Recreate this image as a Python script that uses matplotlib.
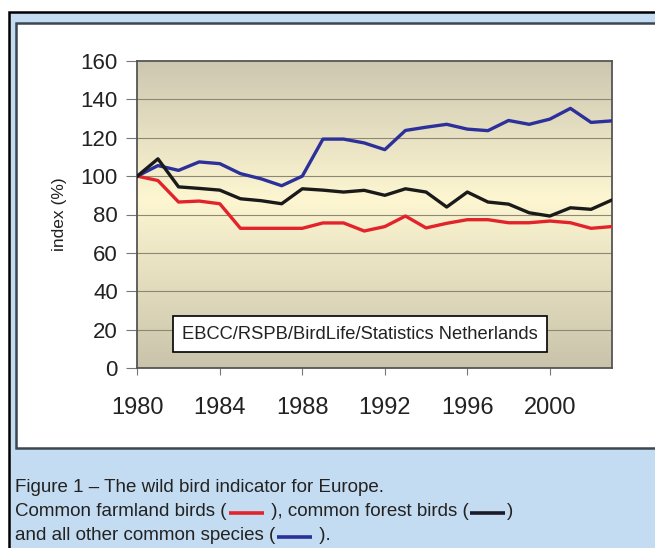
import numpy as np
import matplotlib
matplotlib.use("Agg")
import matplotlib.pyplot as plt
from matplotlib.patches import Rectangle
from matplotlib.lines import Line2D
from matplotlib.colors import LinearSegmentedColormap

plt.rcParams['font.family'] = ['Liberation Sans', 'DejaVu Sans']

# --- Data (index, 1980 = 100) ---
years = list(range(1980, 2004))
farmland = [100, 97.7, 86.5, 87.0, 85.6, 72.8, 72.8, 72.8, 72.8, 75.6, 75.6, 71.4,
            73.7, 79.2, 73.0, 75.4, 77.3, 77.3, 75.7, 75.7, 76.6, 75.7, 72.8, 73.7]
forest = [100, 109.0, 94.4, 93.6, 92.7, 88.2, 87.2, 85.6, 93.4, 92.7, 91.7, 92.6,
          90.0, 93.4, 91.7, 83.9, 91.7, 86.5, 85.4, 80.9, 79.2, 83.5, 82.7, 87.5]
other = [100, 105.5, 103.0, 107.4, 106.5, 101.3, 98.6, 95.0, 100.0, 119.3, 119.3, 117.3,
         113.8, 123.8, 125.5, 127.0, 124.5, 123.7, 129.0, 127.0, 129.7, 135.3, 128.0, 128.8]
xticks = [1980, 1984, 1988, 1992, 1996, 2000]
yticks = [0, 20, 40, 60, 80, 100, 120, 140, 160]
source = "EBCC/RSPB/BirdLife/Statistics Netherlands"

W, H = 655, 548
fig = plt.figure(figsize=(W / 100, H / 100), dpi=100)
fig.patch.set_facecolor("white")


def fx(px):
    return px / W


def fy(py):
    return 1 - py / H


# --- Frames ---
fig.add_artist(Rectangle((fx(8.5), fy(600)), fx(700), fy(11.5) - fy(600),
                         transform=fig.transFigure, facecolor="#c4dcf1",
                         edgecolor="black", linewidth=1.8, zorder=0))
fig.add_artist(Rectangle((fx(15.5), fy(448)), fx(700), fy(22.5) - fy(448),
                         transform=fig.transFigure, facecolor="white",
                         edgecolor="#3c4550", linewidth=1.8, zorder=0))

# --- Axes ---
ax = fig.add_axes([fx(137.3), fy(368), fx(611.7) - fx(137.3), fy(61) - fy(368)])
ax.set_xlim(1980, 2003)
ax.set_ylim(0, 160)

cmap = LinearSegmentedColormap.from_list(
    "bg", [(0, "#c9c3ab"), (0.55, "#fdf6d1"), (1, "#cdc7b1")])
grad = np.linspace(0, 1, 256).reshape(-1, 1)
ax.imshow(grad, cmap=cmap, origin="lower", aspect="auto",
          extent=(1980, 2003, 0, 160), zorder=0)

for v in yticks[1:-1]:
    ax.axhline(v, color="#8d8873", linewidth=0.8, zorder=1)

ax.plot(years, farmland, color="#e3232b", linewidth=2.4, zorder=3)
ax.plot(years, forest, color="#1a1a1a", linewidth=2.4, zorder=4)
ax.plot(years, other, color="#2c309a", linewidth=2.4, zorder=3)

for s in ax.spines.values():
    s.set_color("#555555")
    s.set_linewidth(1.3)

ax.set_xticks(xticks)
ax.set_yticks(yticks)
ax.tick_params(axis="x", labelsize=17, length=5, pad=16, color="#777777",
               labelcolor="#222222")
ax.tick_params(axis="y", labelsize=16, length=8, pad=6, color="#777777",
               labelcolor="#222222")
ax.set_ylabel("index (%)", fontsize=12.5, labelpad=10, color="#222222")

ax.text(1990.8, 17.7, source, ha="center", va="center", fontsize=13.2, zorder=5,
        color="#222222",
        bbox=dict(boxstyle="square,pad=0.5", facecolor="white", edgecolor="black",
                  linewidth=1.2))

# --- Caption with inline line samples ---
cap_font = ['Liberation Sans Narrow', 'Liberation Sans', 'DejaVu Sans']
cap_size = 13.5
renderer = fig.canvas.get_renderer()


def caption_line(parts, y_px, x0=15):
    x = x0
    for kind, val in parts:
        if kind == "text":
            t = fig.text(fx(x), fy(y_px), val, fontsize=cap_size, family=cap_font,
                         color="#222222", va="center", ha="left")
            bb = t.get_window_extent(renderer=renderer)
            x += bb.width
        else:
            fig.add_artist(Line2D([fx(x + 2), fx(x + 37)], [fy(y_px + 1.5)] * 2,
                                  transform=fig.transFigure, color=val,
                                  linewidth=2.6, solid_capstyle="butt"))
            x += 39


caption_line([("text", "Figure 1 \u2013 The wild bird indicator for Europe.")], 487)
caption_line([("text", "Common farmland birds ("), ("line", "#e3232b"),
              ("text", " ), common forest birds ("), ("line", "#1a1a2a"),
              ("text", ")")], 511)
caption_line([("text", "and all other common species ("), ("line", "#2c309a"),
              ("text", " ).")], 535)

fig.savefig("out.png", dpi=100)
